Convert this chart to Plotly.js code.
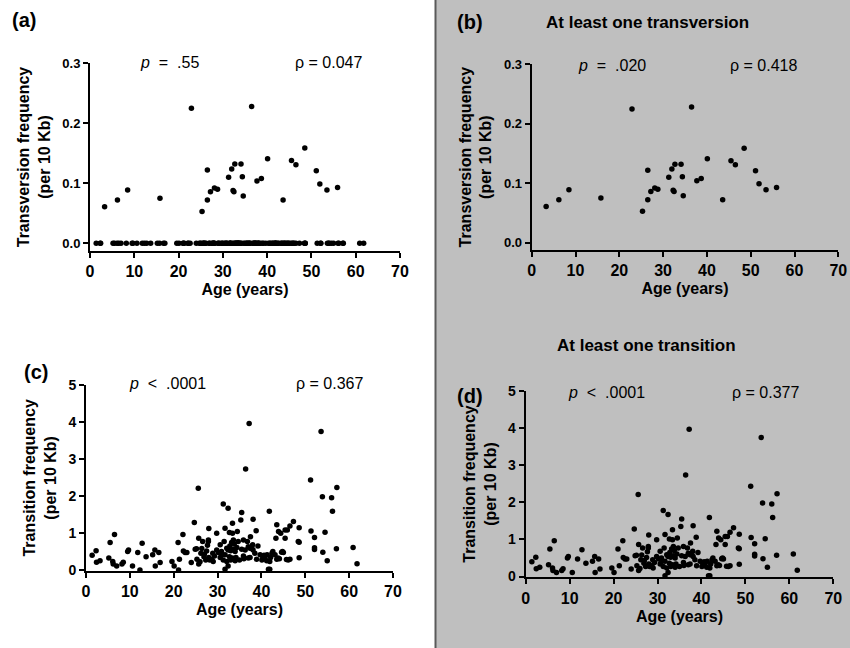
<!DOCTYPE html>
<html><head><meta charset="utf-8">
<script src="https://cdn.plot.ly/plotly-3.0.1.min.js"></script>
<style>html,body{margin:0;padding:0;background:#fff}</style>
</head><body>
<div id="chart" style="width:850px;height:648px"></div>
<script>
// ---- Transversion frequency (per 10 Kb): samples with at least one transversion
const tvAges = [3.3, 6.2, 8.5, 15.8, 22.9, 25.3, 26.5, 26.5, 27.2, 28.1, 28.8, 31.3, 32.0, 32.3, 32.5, 32.7,
  34.1, 34.4, 34.6, 36.5, 37.7, 38.7, 40.1, 43.6, 45.5, 46.5, 48.5, 51.1, 51.9, 53.5, 55.9];
const tvFreq = [0.061, 0.072, 0.089, 0.075, 0.225, 0.053, 0.122, 0.072, 0.086, 0.092, 0.090, 0.110, 0.124, 0.088, 0.086, 0.132,
  0.132, 0.111, 0.079, 0.228, 0.104, 0.108, 0.141, 0.072, 0.138, 0.131, 0.159, 0.121, 0.099, 0.089, 0.093];
// ages of samples with zero transversions
const tvZeroAges = [1.4, 2.3, 2.4, 5.2, 5.5, 6.1, 6.5, 7.0, 8.2, 9.5, 9.7, 10.6, 11.8, 12.3, 12.8, 13.7, 15.2, 15.7, 16.6, 16.9,
  19.6, 20.1, 21.0, 21.1, 21.3, 22.1, 22.2, 22.6, 24.0, 24.7, 24.9, 25.2, 25.6, 25.7, 25.7, 26.0, 26.2, 26.9, 27.0, 27.5,
  27.7, 27.9, 27.9, 28.0, 28.2, 28.9, 29.0, 29.3, 29.8, 29.8, 30.2, 30.6, 30.6, 30.9, 31.0, 31.5, 31.7, 31.7, 31.7, 32.1,
  32.4, 32.7, 32.8, 33.0, 33.0, 33.2, 33.4, 33.4, 33.4, 33.6, 33.6, 33.8, 34.0, 34.2, 34.7, 35.0, 35.3, 35.5, 35.5, 35.9,
  35.9, 36.0, 36.3, 36.8, 37.0, 37.0, 37.2, 37.4, 37.4, 37.5, 37.8, 38.0, 38.1, 38.1, 38.5, 38.9, 39.2, 39.7, 40.3, 40.6,
  40.8, 41.2, 41.3, 41.6, 41.8, 41.9, 41.9, 42.1, 42.4, 42.6, 43.1, 43.3, 43.5, 43.8, 43.9, 44.1, 44.4, 44.6, 44.8, 45.0,
  45.4, 45.7, 45.9, 46.1, 46.5, 47.3, 48.4, 48.6, 48.6, 51.3, 52.1, 52.1, 53.6, 53.9, 54.0, 54.5, 55.0, 56.0, 56.2, 57.1,
  57.2, 60.9, 61.8];

// ---- Transition frequency (per 10 Kb): all samples
const tsAges = [1.4, 2.3, 2.4, 3.2, 5.2, 5.5, 6.1, 6.2, 6.5, 7.0, 8.2, 8.5, 9.5, 9.7, 10.6, 11.8, 12.3, 12.8, 13.7, 15.2,
  15.7, 15.8, 16.6, 16.9, 19.6, 20.1, 21.0, 21.1, 21.3, 22.1, 22.2, 22.6, 23.0, 24.0, 24.7, 24.9, 25.2, 25.3, 25.6, 25.7,
  25.7, 26.0, 26.2, 26.4, 26.6, 26.9, 27.0, 27.3, 27.5, 27.7, 27.9, 27.9, 28.0, 28.0, 28.2, 28.7, 28.9, 29.0, 29.3, 29.8,
  29.8, 30.2, 30.6, 30.6, 30.9, 31.0, 31.3, 31.3, 31.5, 31.7, 31.7, 31.7, 32.1, 32.1, 32.4, 32.4, 32.4, 32.7, 32.7, 32.8,
  33.0, 33.0, 33.2, 33.4, 33.4, 33.4, 33.6, 33.6, 33.8, 34.0, 34.0, 34.2, 34.4, 34.5, 34.7, 35.0, 35.3, 35.5, 35.5, 35.9,
  35.9, 36.0, 36.3, 36.4, 36.8, 37.0, 37.0, 37.2, 37.4, 37.4, 37.5, 37.8, 38.0, 38.1, 38.1, 38.5, 38.8, 38.9, 39.2, 39.7,
  40.1, 40.3, 40.6, 40.8, 41.2, 41.3, 41.6, 41.8, 41.9, 41.9, 42.1, 42.4, 42.6, 43.1, 43.3, 43.5, 43.5, 43.8, 43.9, 44.1,
  44.4, 44.6, 44.8, 45.0, 45.4, 45.4, 45.7, 45.9, 46.1, 46.5, 46.5, 47.3, 48.4, 48.6, 48.6, 48.6, 51.2, 51.3, 52.1, 52.1,
  52.1, 53.6, 53.9, 54.0, 54.5, 55.0, 56.0, 56.2, 57.1, 57.2, 60.9, 61.8];
const tsFreq = [0.40, 0.52, 0.21, 0.25, 0.32, 0.74, 0.23, 0.16, 0.96, 0.11, 0.16, 0.21, 0.50, 0.54, 0.11, 0.47, 0.00, 0.72, 0.36, 0.41,
  0.54, 0.11, 0.47, 0.20, 0.23, 0.11, 0.74, 0.00, 0.29, 0.96, 0.51, 0.47, 0.47, 0.20, 1.28, 0.56, 0.57, 0.29, 2.21, 0.86,
  0.16, 0.22, 0.45, 0.58, 0.77, 0.36, 0.43, 0.27, 0.51, 0.67, 0.77, 0.81, 1.12, 0.34, 0.27, 0.29, 0.45, 0.23, 0.38, 0.99,
  0.54, 0.47, 0.68, 0.34, 0.50, 0.41, 1.78, 0.27, 0.77, 1.13, 0.41, 0.02, 0.59, 0.23, 1.67, 0.54, 0.11, 1.01, 0.36, 0.65,
  0.52, 0.27, 0.74, 1.26, 0.99, 0.32, 0.81, 0.56, 0.70, 0.50, 0.25, 0.34, 0.61, 1.04, 0.77, 0.27, 1.35, 1.55, 0.56, 0.81,
  0.38, 0.30, 0.54, 2.73, 0.77, 0.63, 0.32, 3.96, 0.59, 0.34, 0.90, 0.59, 0.68, 1.37, 0.54, 0.45, 1.06, 0.29, 0.65, 0.41,
  0.27, 0.36, 0.40, 0.32, 0.25, 0.41, 0.02, 1.59, 0.23, 0.02, 0.34, 0.45, 0.50, 0.41, 0.86, 1.22, 0.29, 0.32, 1.04, 0.30,
  0.99, 0.48, 0.50, 0.47, 1.08, 0.86, 0.28, 1.08, 0.27, 1.19, 0.29, 1.31, 0.77, 1.14, 0.75, 0.33, 2.43, 1.05, 0.88, 0.60,
  0.55, 3.74, 1.98, 0.48, 1.02, 0.25, 1.95, 1.59, 0.57, 2.23, 0.61, 0.17];

const tsPosAges = tsAges.filter((a, i) => tsFreq[i] > 0.01);
const tsPosFreq = tsFreq.filter(v => v > 0.01);

const FONT = "Liberation Sans, Arial, sans-serif";
const mk = {color: '#000', size: 5.5};

const traces = [
  {x: tvZeroAges.concat(tvAges), y: tvZeroAges.map(() => 0).concat(tvFreq), type: 'scatter', mode: 'markers', marker: mk, xaxis: 'x', yaxis: 'y', cliponaxis: false},
  {x: tvAges, y: tvFreq, type: 'scatter', mode: 'markers', marker: mk, xaxis: 'x2', yaxis: 'y2', cliponaxis: false},
  {x: tsAges, y: tsFreq, type: 'scatter', mode: 'markers', marker: mk, xaxis: 'x3', yaxis: 'y3', cliponaxis: false},
  {x: tsPosAges, y: tsPosFreq, type: 'scatter', mode: 'markers', marker: mk, xaxis: 'x4', yaxis: 'y4', cliponaxis: false}
];

function xax(domain, anchor) {
  return {domain: domain, anchor: anchor, range: [0, 70], tickvals: [0,10,20,30,40,50,60,70],
    showgrid: false, zeroline: false, showline: true, linecolor: '#000', linewidth: 2,
    ticks: 'outside', ticklen: 5, tickwidth: 2, tickcolor: '#000',
    tickfont: {family: FONT, size: 16, color: '#000', weight: 'bold'},
    title: {text: '<b>Age (years)</b>', font: {family: FONT, size: 16, color: '#000'}, standoff: 5},
    automargin: false, fixedrange: true};
}
function yax(domain, anchor, range, tickvals, fmt, title, tsize) {
  return {domain: domain, anchor: anchor, range: range, tickvals: tickvals, tickformat: fmt,
    showgrid: false, zeroline: false, showline: true, linecolor: '#000', linewidth: 2,
    ticks: 'outside', ticklen: 5, tickwidth: 2, tickcolor: '#000',
    tickfont: {family: FONT, size: tsize, color: '#000', weight: 'bold'},
    title: {text: title, font: {family: FONT, size: 16, color: '#000'}, standoff: 8},
    automargin: false, fixedrange: true};
}
const W = 850, H = 648;
const px = v => v / W, py = v => 1 - v / H;

const tvTitle = '<b>Transversion frequency<br>(per 10 Kb)</b>';
const tsTitle = '<b>Transition frequency<br>(per 10 Kb)</b>';

function ann(x, y, text, size, bold, anchor) {
  return {xref: 'paper', yref: 'paper', x: px(x), y: py(y), text: text, showarrow: false,
    xanchor: anchor || 'center', yanchor: 'middle',
    font: {family: FONT, size: size, color: '#000', weight: bold ? 'bold' : 'normal'}};
}

const layout = {
  width: W, height: H, margin: {l: 0, r: 0, t: 0, b: 0},
  paper_bgcolor: '#ffffff', plot_bgcolor: 'rgba(0,0,0,0)', showlegend: false,
  xaxis: xax([px(90), px(400)], 'y'),
  yaxis: yax([py(250.7), py(63.3)], 'x', [-0.0123, 0.3], [0, 0.1, 0.2, 0.3], '.1f', tvTitle, 13),
  xaxis2: xax([px(531.7), px(838.3)], 'y2'),
  yaxis2: yax([py(250), py(64.3)], 'x2', [-0.0123, 0.3], [0, 0.1, 0.2, 0.3], '.1f', tvTitle, 13),
  xaxis3: xax([px(86), px(393)], 'y3'),
  yaxis3: yax([py(570.7), py(385)], 'x3', [-0.02, 5], [0, 1, 2, 3, 4, 5], 'd', tsTitle, 14),
  xaxis4: xax([px(525.7), px(833.3)], 'y4'),
  yaxis4: yax([py(577.3), py(390.7)], 'x4', [-0.02, 5], [0, 1, 2, 3, 4, 5], 'd', tsTitle, 14),
  shapes: [
    {type: 'rect', xref: 'paper', yref: 'paper', x0: px(436), x1: 1, y0: 0, y1: 1, fillcolor: '#bfbfbf', line: {width: 0}, layer: 'below'},
    {type: 'line', xref: 'paper', yref: 'paper', x0: px(435.5), x1: px(435.5), y0: 0, y1: 1, line: {color: '#5a5a5a', width: 2}, layer: 'below'}
  ],
  annotations: [
    ann(10, 20, '(a)', 20, true, 'left'),
    ann(455, 22, '(b)', 20, true, 'left'),
    ann(22, 372, '(c)', 20, true, 'left'),
    ann(455, 396, '(d)', 20, true, 'left'),
    ann(647, 22, 'At least one transversion', 17, true),
    ann(646, 345, 'At least one transition', 17, true),
    ann(169, 63, '<i>p</i>  =  .55', 16, false),
    ann(328, 63, 'ρ = 0.047', 16, false),
    ann(612, 65, '<i>p</i>  =  .020', 16, false),
    ann(763, 65, 'ρ = 0.418', 16, false),
    ann(167, 383, '<i>p</i>  &lt;  .0001', 16, false),
    ann(329, 383, 'ρ = 0.367', 16, false),
    ann(606, 392, '<i>p</i>  &lt;  .0001', 16, false),
    ann(765, 392, 'ρ = 0.377', 16, false)
  ]
};

Plotly.newPlot('chart', traces, layout, {staticPlot: true, displayModeBar: false});
</script>
</body></html>
